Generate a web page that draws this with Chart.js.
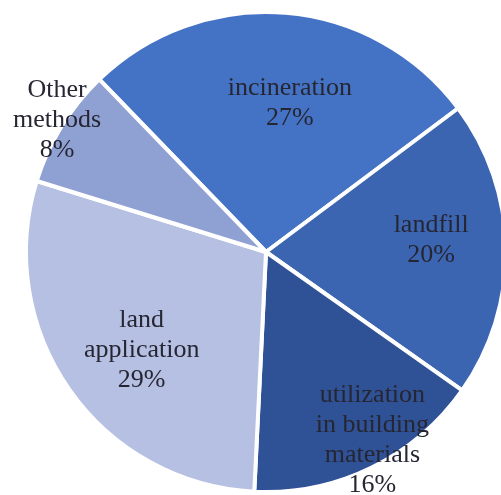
<!DOCTYPE html>
<html>
<head>
<meta charset="utf-8">
<title>Sludge disposal</title>
<script src="https://cdn.jsdelivr.net/npm/chart.js@4.4.1/dist/chart.umd.min.js"></script>
<style>
    html, body { margin: 0; padding: 0; background: #ffffff; overflow: hidden; }
    #caja { position: absolute; left: 0; top: 0; width: 532px; height: 504px; }
</style>
</head>
<body>
<div id="caja"><canvas id="myChart"></canvas></div>
<script>
// datos
var metodos = ['incineration', 'landfill', 'utilization in building materials', 'land application', 'Other methods'];
var porcentajes = [27, 20, 16, 29, 8];
// como se parte cada etiqueta en lineas
var lineasEtiqueta = [
    ['incineration'],
    ['landfill'],
    ['utilization', 'in building', 'materials'],
    ['land', 'application'],
    ['Other', 'methods']
];
var colores = ['#4472c4', '#3b65b1', '#2f5195', '#b5c0e3', '#8fa1d3'];
// donde va cada texto: fraccion del radio y giro en grados
var radioEtiqueta = [0.63, 0.69, 0.90, 0.66, 1.03];
var giroEtiqueta = [4.5, -3.2, -3.5, -3.3, 0.7];

var ctx;

var pluginEtiquetas = {
    id: 'etiquetas',
    afterDatasetsDraw: function (chart) {
        var meta = chart.getDatasetMeta(0);
        var c = chart.ctx;
        c.save();
        c.font = '26px "Liberation Serif", "Times New Roman", serif';
        c.fillStyle = '#262633';
        c.textAlign = 'center';
        c.textBaseline = 'middle';
        for (let i = 0; i < meta.data.length; i++) {
            let arco = meta.data[i];
            let medio = (arco.startAngle + arco.endAngle) / 2 + giroEtiqueta[i] * Math.PI / 180;
            let r = arco.outerRadius * radioEtiqueta[i];
            let x = arco.x + Math.cos(medio) * r;
            let y = arco.y + Math.sin(medio) * r;
            let lineas = lineasEtiqueta[i].concat([porcentajes[i] + '%']);
            let alto = 30;
            let y0 = y - (lineas.length - 1) * alto / 2;
            for (let j = 0; j < lineas.length; j++) {
                c.fillText(lineas[j], x, y0 + j * alto);
            }
        }
        c.restore();
    }
};

function construirGrafica() {
    ctx = document.getElementById('myChart').getContext('2d');
    const myChart = new Chart(ctx, {
        type: 'pie',
        data: {
            labels: metodos,
            datasets: [{
                data: porcentajes,
                backgroundColor: colores,
                borderColor: '#ffffff',
                borderWidth: 4
            }]
        },
        options: {
            responsive: true,
            maintainAspectRatio: false,
            animation: false,
            rotation: -44,
            layout: { padding: 10 },
            plugins: {
                legend: { display: false },
                tooltip: { enabled: false }
            }
        },
        plugins: [pluginEtiquetas]
    });
}

construirGrafica();
</script>
</body>
</html>
